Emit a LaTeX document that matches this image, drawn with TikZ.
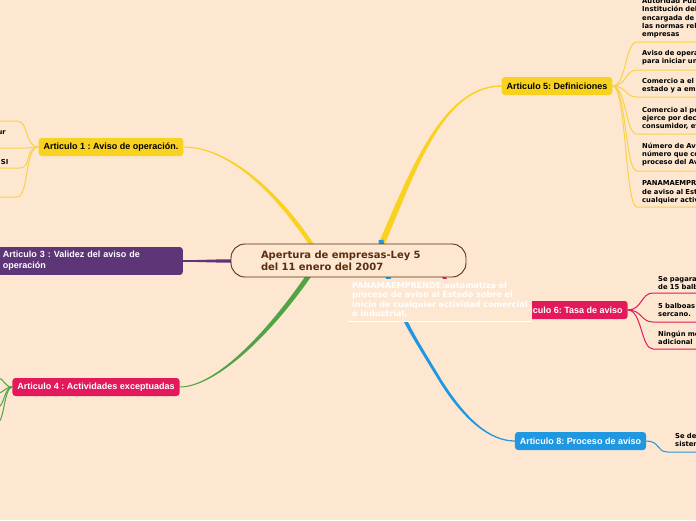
\documentclass[tikz,border=0pt]{standalone}
\usepackage{fontspec}
\newfontfamily\libsans{Liberation Sans}
\newfontfamily\dvsans{DejaVu Sans}
\usetikzlibrary{calc}
\frenchspacing
\definecolor{bgc}{HTML}{FDE7D1}
\definecolor{brn}{HTML}{5B2E0E}
\definecolor{ylw}{HTML}{F9D11F}
\definecolor{ylwl}{HTML}{F8D24A}
\definecolor{prp}{HTML}{5E3576}
\definecolor{crm}{HTML}{E3195B}
\definecolor{blu}{HTML}{1F97E1}
\definecolor{grn}{HTML}{50A444}
\pgfdeclarelayer{back}
\pgfdeclarelayer{bg}
\pgfsetlayers{back,bg,main}
% tapered connector: colour, start, control1, control2, end, start half width, end half width
\newcommand\taperto[7]{%
  \coordinate (tS1) at ($(#2)!#6!90:(#3)$);
  \coordinate (tS2) at ($(#2)!#6!-90:(#3)$);
  \coordinate (tE1) at ($(#5)!#7!-90:(#4)$);
  \coordinate (tE2) at ($(#5)!#7!90:(#4)$);
  \fill[#1] (tS1) .. controls ($(#3)+(tS1)-(#2)$) and ($(#4)+(tE1)-(#5)$) .. (tE1)
    -- (tE2) .. controls ($(#4)+(tE2)-(#5)$) and ($(#3)+(tS2)-(#2)$) .. (tS2) -- cycle;}
\tikzset{
  ctr/.style={draw=brn, fill=bgc, line width=0.9pt, rounded corners=14pt,
    minimum width=235pt, minimum height=33pt, text width=175pt, inner xsep=30pt,
    inner ysep=0pt, align=left, text=brn,
    font=\dvsans\bfseries\fontsize{10}{12}\selectfont},
  br/.style={rectangle, rounded corners=3pt, minimum height=18pt, inner xsep=5pt,
    inner ysep=2pt, font=\libsans\bfseries\fontsize{9}{11}\selectfont},
  leaf/.style={inner sep=0pt, align=left, text width=220pt, text=black,
    font=\dvsans\bfseries\fontsize{6.8}{8.3}\selectfont},
  pan/.style={fill=bgc, text=white, text width=176pt, inner xsep=4pt, inner ysep=3.5pt,
    align=left, font=\dvsans\bfseries\fontsize{8.1}{9.4}\selectfont},
  leafy/.style={draw=ylwl, line width=1pt},
  leafc/.style={draw=crm, line width=1pt},
  leafb/.style={draw=blu, line width=1pt},
  leafg/.style={draw=grn, line width=1pt},
}
\begin{document}
\begin{tikzpicture}[x=1pt,y=-1pt]
\begin{pgfonlayer}{back}
\fill[bgc] (0,0) rectangle (696,520);
\end{pgfonlayer}
\useasboundingbox (0,0) rectangle (696,520);

% central node
\node[ctr] (c) at (348.5,260.5) {Apertura de empresas-Ley 5\\del 11 enero del 2007};

% branch nodes
\node[br, fill=ylw, text=black] (a1) at (111,147) {Articulo 1 : Aviso de operación.};
\node[br, fill=prp, text=white, anchor=east, text width=175pt, align=left, inner ysep=4.25pt,
  font=\libsans\bfseries\fontsize{9}{11}\selectfont] (a3) at (183,261)
  {Articulo 3 : Validez del aviso de\\operación};
\node[br, fill=crm, text=white] (a4) at (96,387) {Articulo 4 : Actividades exceptuadas};
\node[br, fill=ylw, text=black] (a5) at (557,86) {Articulo 5: Definiciones};
\node[br, fill=crm, text=white] (a6) at (570,310) {Articulo 6: Tasa de aviso};
\node[br, fill=blu, text=white] (a8) at (580.5,441) {Articulo 8: Proceso de aviso};

% connectors from the centre
\begin{pgfonlayer}{bg}
\coordinate (s5) at (378,252); \coordinate (k51) at (410,180); \coordinate (k52) at (440,86);
\taperto{ylw}{s5}{k51}{k52}{a5.west}{3pt}{0.7pt}
\coordinate (s1) at (315,250); \coordinate (k11) at (280,195); \coordinate (k12) at (230,147);
\taperto{ylw}{s1}{k11}{k12}{a1.east}{2.2pt}{0.5pt}
\coordinate (s3) at (240,261); \coordinate (k31) at (215,261); \coordinate (k32) at (200,261);
\taperto{prp}{s3}{k31}{k32}{a3.east}{1.8pt}{0.8pt}
\coordinate (s4) at (318,262); \coordinate (k41) at (270,335); \coordinate (k42) at (215,387);
\taperto{grn}{s4}{k41}{k42}{a4.east}{2.5pt}{0.5pt}
\coordinate (s6) at (440,262); \coordinate (k61) at (445,300); \coordinate (k62) at (480,310);
\taperto{crm}{s6}{k61}{k62}{a6.west}{2pt}{0.6pt}
\coordinate (s8) at (381,240); \coordinate (k81) at (388,300); \coordinate (k82) at (410,330);
\coordinate (j8) at (440,380);
\taperto{blu}{s8}{k81}{k82}{j8}{2.5pt}{1.4pt}
\coordinate (k83) at (465,420); \coordinate (k84) at (490,441);
\taperto{blu}{j8}{k83}{k84}{a8.west}{1.4pt}{0.6pt}
\end{pgfonlayer}

% Articulo 5 leaves
\foreach \i/\u in {1/42,2/70,3/97,4/134,5/171,6/207}{
  \coordinate (u5\i) at (637,\u);
  \draw[leafy] (a5.east) .. controls +(14,0) and +(-12,0) .. (u5\i) -- +(70,0);
}
\node[leaf, anchor=south west] (t51) at (642,38.5) {Autoridad Publica: la\\Institución del Estado\\encargada de aplicar\\las normas relativas a\\empresas};
\node[leaf, anchor=south west] (t52) at (642,65) {Aviso de operación: trámite\\para iniciar una actividad};
\node[leaf, anchor=south west] (t53) at (642,93) {Comercio a el por mayor: al\\estado y a empresas};
\node[leaf, anchor=south west] (t54) at (642,130) {Comercio al por menor: el que se\\ejerce por decisión del\\consumidor, etc.};
\node[leaf, anchor=south west] (t55) at (642,166.5) {Número de Aviso de Operación:\\número que corresponde al\\proceso del Aviso};
\node[leaf, anchor=south west] (t56) at (642,204) {PANAMAEMPRENDE: sistema\\de aviso al Estado sobre\\cualquier actividad};

% Articulo 6 leaves
\foreach \i/\u in {1/293,2/322,3/349}{
  \coordinate (u6\i) at (653,\u);
  \draw[leafc] (a6.east) .. controls +(14,0) and +(-12,0) .. (u6\i) -- +(60,0);
}
\node[leaf, anchor=south west] (t61) at (658,290) {Se pagara una tasa\\de 15 balboas};
\node[leaf, anchor=south west] (t62) at (658,317) {5 balboas al año\\sercano.};
\node[leaf, anchor=south west] (t63) at (658,345) {Ningún monto\\adicional};

% Articulo 8 leaf
\coordinate (u81) at (668,452);
\draw[leafb] (a8.east) .. controls +(14,0) and +(-12,0) .. (u81) -- +(40,0);
\node[leaf, anchor=south west] (t81) at (675,447) {Se debe usar el\\sistema};

% Articulo 1 leaves (left)
\foreach \i/\u/\x in {1/121/17,2/148/24,3/168/20,4/197/17}{
  \coordinate (u1\i) at (\x,\u);
  \draw[leafy] (a1.west) .. controls +(-14,0) and +(12,0) .. (u1\i) -- +(-30,0);
}
\node[leaf, text width=, anchor=east] (t12) at (6,133) {ur};
\node[leaf, text width=, anchor=east] (t13) at (8.5,162) {SI};

% Articulo 4 leaves (left)
\foreach \i/\u in {1/378,2/393,3/407,4/422}{
  \coordinate (u4\i) at (-2,\u);
  \draw[leafg] (a4.west) .. controls +(-8,0) and +(6,0) .. (u4\i);
}

% floating text over the connectors
\node[pan, anchor=north west] (pn) at (348,278.5) {PANAMAEMPRENDE:automatiza el\\proceso de aviso al Estado sobre el\\inicio de cualquier actividad comercial\\o industrial,};
\draw[white, line width=0.8pt] (pn.south west) -- (pn.south east);
\end{tikzpicture}
\end{document}
